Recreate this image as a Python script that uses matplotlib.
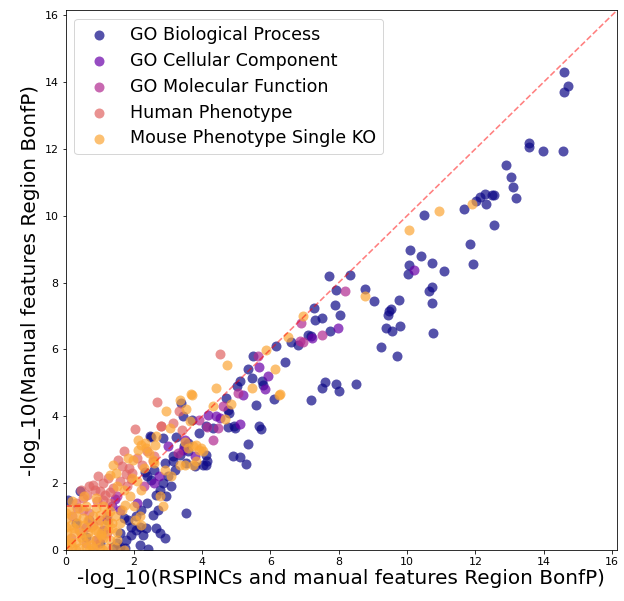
import matplotlib
matplotlib.use('Agg')
import matplotlib.pyplot as plt
import numpy as np

# category names
labels = ['GO Biological Process', 'GO Cellular Component', 'GO Molecular Function',
          'Human Phenotype', 'Mouse Phenotype Single KO']

# -log10 BonfP values (x: RSPINCs + manual, y: manual only)
bp_x = [14.59, 14.71, 14.59, 13.58, 13.58, 13.98, 14.56, 12.90, 13.03, 13.11, 13.19, 12.49, 12.55, 12.27,
        12.14, 12.02, 12.31, 11.66, 12.54, 10.50, 11.84, 11.92, 10.10, 10.40, 10.72, 10.06, 10.03, 11.09,
        10.72, 10.65, 10.72, 10.76, 9.77, 9.53, 9.47, 9.44, 9.78, 9.57, 9.38, 9.23,
        8.33, 7.72, 7.93, 8.76, 9.02, 9.71, 7.28, 7.89, 8.04, 7.31, 7.51, 7.75, 7.11, 7.18, 6.60, 6.81,
        6.43, 7.60, 7.51, 7.93, 8.01, 8.51, 7.20,
        5.50, 5.33, 5.47, 5.12, 5.75, 5.79, 5.01, 6.09, 5.58, 4.70, 4.75, 4.80, 4.92, 4.75, 4.95, 4.12,
        4.31, 5.65, 5.72, 5.33, 4.90, 5.12, 5.29, 3.46, 3.58, 4.12, 4.12, 3.78, 4.14, 4.02, 3.54, 3.15,
        3.34, 3.15, 3.44, 2.50, 2.85, 3.22, 3.39, 6.17,
        2.48, 2.32, 2.39, 2.76, 2.95, 2.66, 3.54, 1.83, 1.93, 2.06, 1.93, 1.78, 2.17, 2.37, 2.27, 2.66,
        2.76, 2.90, 2.17, 2.41, 0.42, 0.08, 2.50, 2.60, 2.85, 3.00, 3.10, 2.20, 2.40, 1.60, 1.50, 2.70,
        3.20, 2.90, 3.60, 3.90, 3.70, 0.60, 1.00, 1.20, 0.30, 1.40, 1.60, 1.75, 2.05, 2.55, 1.70]
bp_y = [14.31, 13.88, 13.69, 12.19, 12.06, 11.95, 11.95, 11.53, 11.17, 10.87, 10.53, 10.61, 10.61, 10.66,
        10.57, 10.43, 10.35, 10.19, 9.73, 10.01, 9.16, 8.56, 8.98, 8.79, 8.60, 8.53, 8.26, 8.34,
        7.87, 7.74, 7.38, 6.49, 7.48, 7.21, 7.16, 7.03, 6.71, 6.56, 6.63, 6.06,
        8.23, 8.19, 7.78, 7.80, 7.45, 5.81, 7.23, 7.33, 7.03, 6.89, 6.93, 6.56, 6.44, 6.41, 6.21, 6.14,
        5.62, 5.02, 4.84, 4.96, 4.77, 4.96, 4.50,
        5.81, 5.41, 5.13, 5.04, 5.05, 4.92, 4.91, 4.52, 4.35, 4.54, 4.20, 4.10, 3.70, 3.67, 3.65, 3.72,
        3.65, 3.70, 3.62, 3.18, 2.82, 2.78, 2.58, 3.10, 2.95, 2.85, 2.55, 2.50, 2.67, 2.55, 2.60, 2.65,
        2.85, 2.80, 4.02, 3.38, 3.35, 3.38, 4.41, 6.10,
        3.40, 2.32, 2.20, 1.80, 1.60, 1.65, 1.10, 0.90, 0.70, 0.60, 0.45, 0.30, 0.70, 0.65, 0.45, 0.65,
        0.50, 0.35, 0.15, 0.02, 1.75, 1.50, 2.10, 2.40, 2.00, 2.20, 1.90, 1.20, 1.40, 0.50, 0.20, 1.20,
        2.40, 2.60, 3.20, 3.50, 3.90, 0.40, 0.20, 0.90, 0.80, 0.10, 0.10, 0.05, 1.00, 1.05, 0.95]

cc_x = [10.21, 7.97, 7.23, 5.65, 5.92, 5.85, 5.19, 4.17, 4.41, 4.51, 5.12, 3.44, 3.50, 2.60, 2.75,
        2.10, 1.44, 1.60, 1.10, 0.70, 3.80, 3.00, 1.35]
cc_y = [8.38, 6.63, 6.34, 5.47, 5.20, 4.83, 4.65, 4.03, 4.00, 3.95, 3.78, 3.00, 3.30, 2.00, 2.20,
        1.40, 1.52, 1.20, 0.60, 0.90, 2.80, 3.10, 1.30]

mf_x = [8.19, 6.88, 7.50, 6.87, 6.96, 5.63, 5.04, 4.15, 4.46, 4.31, 4.60, 3.30, 2.30, 1.20, 0.60,
        0.90, 1.50, 3.90]
mf_y = [7.75, 6.78, 6.44, 6.26, 6.21, 5.81, 4.71, 3.68, 3.65, 3.30, 4.30, 2.90, 1.90, 1.00, 0.70,
        0.30, 1.60, 3.90]

hp_x = [4.52, 2.69, 3.32, 3.15, 2.79, 2.03, 2.81, 1.71, 1.54, 1.64, 1.96, 1.93, 1.78, 0.81, 1.10,
        0.86, 1.00, 0.62, 1.15, 1.30, 1.10, 0.91, 0.30, 0.50, 1.30, 2.25, 1.80, 2.60, 3.40, 0.20,
        0.70, 1.00, 0.40, 0.15, 0.90, 1.20, 0.50, 1.40, 1.60, 1.25, 0.95, 0.70, 0.45, 2.10, 1.85,
        0.35, 0.80, 1.05, 0.60, 2.40, 2.55]
hp_y = [5.85, 4.42, 4.17, 3.80, 3.70, 3.63, 3.72, 2.95, 2.70, 2.50, 2.30, 2.12, 2.28, 1.95, 2.00,
        1.80, 1.75, 1.65, 1.65, 1.72, 1.50, 1.45, 1.40, 1.20, 1.40, 2.55, 1.90, 2.80, 3.60, 1.00,
        1.10, 0.90, 0.60, 0.35, 0.15, 0.50, 1.55, 1.85, 2.05, 2.15, 2.20, 1.90, 1.80, 2.75, 2.45,
        1.25, 0.75, 0.40, 0.20, 2.95, 2.65]

mp_x = [10.93, 11.90, 10.06, 8.76, 6.94, 6.52, 6.29, 4.73, 6.13, 5.47, 6.26, 4.41, 3.70, 4.85, 4.31,
        4.68, 3.73, 3.92, 4.02, 3.49, 5.87, 3.66, 3.34, 2.93, 3.54, 3.63, 2.12, 2.32, 2.61, 3.49, 3.58,
        3.81, 3.97, 3.83, 3.73, 3.34, 2.22, 2.37, 2.12, 1.83, 1.98, 1.39, 1.47, 1.30, 2.08, 2.22, 2.17,
        2.03, 2.22, 1.73, 1.64, 2.76, 2.85, 2.90, 3.10, 2.60,
        0.05, 0.20, 0.40, 0.60, 0.80, 1.00, 1.20, 1.45, 0.10, 0.30, 0.50, 0.70, 0.90, 1.10, 1.30, 0.05,
        0.25, 0.45, 0.65, 0.85, 1.05, 1.25, 1.50, 0.15, 0.35, 0.55, 0.75, 0.95, 1.15, 1.35, 0.05, 0.30,
        0.50, 0.80, 1.00, 1.20, 1.45, 0.10, 0.40, 0.60, 0.90, 1.10, 1.30, 0.20, 0.00, 0.00, 0.00, 0.30,
        0.70, 1.10, 1.50, 1.60, 1.70, 0.55, 0.90, 1.90, 1.70, 2.00, 1.50,
        0.15, 0.45, 0.75, 1.05, 1.35, 0.25, 0.65, 0.95, 1.25, 2.45, 2.65, 2.30, 1.95, 2.55, 3.05]
mp_y = [10.13, 10.35, 9.57, 7.60, 6.99, 6.36, 4.68, 5.53, 5.41, 4.86, 4.65, 4.84, 4.65, 4.37, 4.32,
        3.92, 3.10, 3.00, 2.95, 2.55, 5.99, 4.68, 4.50, 4.15, 4.22, 3.85, 3.30, 3.20, 3.15, 3.22, 3.05,
        3.15, 3.05, 2.65, 2.55, 2.55, 3.15, 3.05, 3.00, 2.75, 2.70, 2.55, 2.30, 2.25, 2.05, 1.80, 1.00,
        0.90, 0.75, 1.35, 1.20, 1.60, 1.30, 2.40, 2.20, 2.60,
        0.05, 0.10, 0.05, 0.10, 0.05, 0.10, 0.05, 0.10, 0.30, 0.25, 0.30, 0.35, 0.30, 0.35, 0.30, 0.50,
        0.55, 0.50, 0.55, 0.60, 0.50, 0.60, 0.55, 0.75, 0.80, 0.75, 0.70, 0.80, 0.75, 0.80, 0.95, 1.00,
        0.95, 1.00, 1.05, 1.10, 1.00, 1.20, 1.25, 1.30, 1.25, 1.30, 1.15, 1.45, 0.20, 0.70, 1.10, 0.00,
        0.00, 0.00, 0.30, 0.80, 0.00, 1.60, 1.55, 1.60, 1.80, 1.30, 1.90,
        0.20, 0.40, 0.15, 0.45, 0.65, 0.65, 0.90, 0.55, 0.85, 2.90, 3.40, 2.45, 2.15, 2.70, 3.65]

xs = [bp_x, cc_x, mf_x, hp_x, mp_x]
ys = [bp_y, cc_y, mf_y, hp_y, mp_y]

thresh = -np.log10(0.05)
lim = 16.15

fig = plt.figure(figsize=(624/72, 601/72), dpi=72)
ax = fig.add_axes([0.105, 0.085, 0.884, 0.898])

cmap = plt.get_cmap('plasma')
for i in range(5):
    ax.scatter(xs[i], ys[i], s=100, color=cmap(i/5), alpha=0.7, linewidths=0, label=labels[i])

# diagonal and significance box
ax.plot([0, 17], [0, 17], '--', color='r', alpha=0.5, linewidth=1.6)
ax.plot([0, thresh], [thresh, thresh], '--', color='r', alpha=0.6, linewidth=1.6)
ax.plot([thresh, thresh], [0, thresh], '--', color='r', alpha=0.6, linewidth=1.6)

ax.set_xlim(0, lim)
ax.set_ylim(0, lim)
ax.set_xticks(range(0, 17, 2))
ax.set_yticks(range(0, 17, 2))
ax.tick_params(labelsize=11)
ax.set_xlabel('-log_10(RSPINCs and manual features Region BonfP)', fontsize=20, labelpad=2)
ax.set_ylabel('-log_10(Manual features Region BonfP)', fontsize=20)
ax.legend(loc='upper left', prop={'size': 17.5}, labelspacing=0.45, borderpad=0.4)

fig.savefig('out.png', dpi=72)
